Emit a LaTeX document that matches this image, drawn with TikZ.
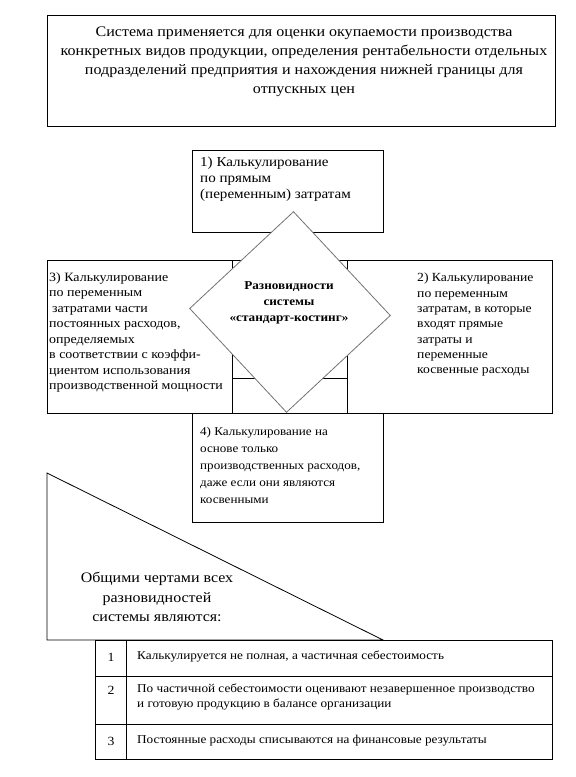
\documentclass[tikz,border=0pt]{standalone}
\usepackage{fontspec}
\setmainfont{Liberation Serif}[FakeStretch=1.1]
\usetikzlibrary{shapes.geometric}

\tikzset{
  frame/.style={draw, line width=0.8pt, fill=white},
  note/.style={anchor=north west, inner sep=0pt, align=left},
  hub/.style={diamond, draw=black!55, line width=0.8pt, fill=white,
    aspect=1, inner sep=0pt, minimum width=201pt, minimum height=201pt},
}

\begin{document}
\begin{tikzpicture}[x=1pt, y=-1pt]
  \useasboundingbox (0,0) rectangle (576,777);

  % purpose of the system
  \draw[frame] (47,15) rectangle (555,126);
  \node[anchor=north, inner sep=0pt, align=center,
    font=\fontsize{14.6}{19}\selectfont] (purpose) at (304,27)
    {Система применяется для оценки окупаемости производства\\
     конкретных видов продукции, определения рентабельности отдельных\\
     подразделений предприятия и нахождения нижней границы для\\
     отпускных цен};

  % four kinds round the diamond
  \draw[frame] (232,260) rectangle (347,378);
  \draw[frame] (192,150) rectangle (383,232);
  \draw[frame] (47,260) rectangle (232,413);
  \draw[frame] (347,260) rectangle (552,413);
  \draw[frame] (192,413) rectangle (383,522);

  \node[note, font=\fontsize{13.7}{16}\selectfont] (kind1) at (200,157)
    {1) Калькулирование\\ по прямым\\ (переменным) затратам};
  \node[note, font=\fontsize{12.7}{15.5}\selectfont] (kind3) at (49,272)
    {3) Калькулирование\\ по переменным\\ \hspace*{3pt}затратами части\\
     постоянных расходов,\\ определяемых\\ в соответствии с коэффи-\\
     циентом использования\\ производственной мощности};
  \node[note, font=\fontsize{12.4}{15.3}\selectfont] (kind2) at (417,273)
    {2) Калькулирование\\ по переменным\\ затратам, в которые\\
     входят прямые\\ затраты и\\ переменные\\ косвенные расходы};
  \node[note, font=\fontsize{11.9}{17}\selectfont] (kind4) at (200,427)
    {4) Калькулирование на\\ основе только\\ производственных расходов,\\
     даже если они являются\\ косвенными};

  \node[hub, rotate=-2] (hub) at (290,312) {};
  \node[anchor=north, inner sep=0pt, align=center,
    font=\bfseries\fontsize{12}{16}\selectfont] (hubtext) at (289,281)
    {Разновидности\\ системы\\ «стандарт-костинг»};

  % common features
  \coordinate (T1) at (47,473);
  \coordinate (T2) at (47,640);
  \coordinate (T3) at (383,640);
  \draw[frame] (T1) -- (T2) -- (T3) -- cycle;
  \node[anchor=north, inner sep=0pt, align=center,
    font=\fontsize{14.5}{19.5}\selectfont] (common) at (157,572)
    {Общими чертами всех\\ разновидностей\\ системы являются:};

  \draw[frame] (95,640) rectangle (552,759);
  \draw[line width=0.8pt] (126,640) -- (126,759);
  \draw[line width=0.8pt] (95,676) -- (552,676);
  \draw[line width=0.8pt] (95,724) -- (552,724);

  \node[font=\fontsize{12.5}{15}\selectfont] (n1) at (111,657) {1};
  \node[font=\fontsize{12.5}{15}\selectfont] (n2) at (111,690) {2};
  \node[font=\fontsize{12.5}{15}\selectfont] (n3) at (111,741) {3};
  \node[note, font=\fontsize{12}{15}\selectfont] (f1) at (137,651)
    {Калькулируется не полная, а частичная себестоимость};
  \node[note, font=\fontsize{12}{15}\selectfont] (f2) at (137,684)
    {По частичной себестоимости оценивают незавершенное производство\\
     и готовую продукцию в балансе организации};
  \node[note, font=\fontsize{12}{15}\selectfont] (f3) at (137,735)
    {Постоянные расходы списываются на финансовые результаты};
\end{tikzpicture}
\end{document}
